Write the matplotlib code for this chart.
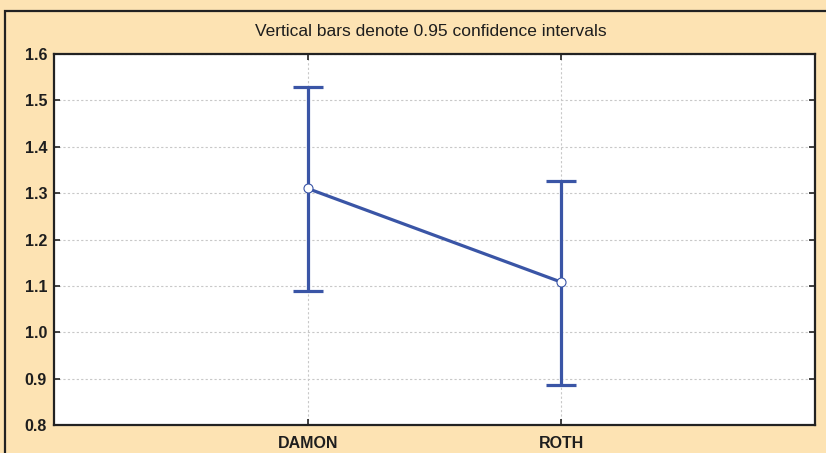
import matplotlib
matplotlib.use("Agg")
import matplotlib.pyplot as plt
from matplotlib.patches import Rectangle

categories = ["DAMON", "ROTH"]
means = [1.310, 1.108]
upper = [1.529, 1.326]
lower = [1.089, 0.887]
yticks = [0.8, 0.9, 1.0, 1.1, 1.2, 1.3, 1.4, 1.5, 1.6]
title = "Vertical bars denote 0.95 confidence intervals"

plt.rcParams['font.family'] = ['Liberation Sans', 'DejaVu Sans']

bg = "#FDE3B3"
blue = "#3A55A6"
dark = "#1E1E1E"

fig = plt.figure(figsize=(8.26, 4.53), dpi=100, facecolor=bg)
fig.patches.append(Rectangle((5/826, -0.1), 1.2, 1 - 11/453 + 0.1, transform=fig.transFigure,
                             fill=False, edgecolor="#222222", linewidth=1.6, zorder=0))
ax = fig.add_axes([54/826, 1 - 425/453, (815-54)/826, (425-54)/453])
ax.set_facecolor("white")

x = list(range(len(categories)))
yerr = [[m - l for m, l in zip(means, lower)], [u - m for m, u in zip(means, upper)]]
ax.errorbar(x, means, yerr=yerr, fmt='none', ecolor=blue, elinewidth=2.3,
            capsize=11, capthick=2.3, zorder=3)
ax.plot(x, means, color=blue, linewidth=2.3, marker='o', markersize=6.5,
        markerfacecolor='white', markeredgecolor=blue, markeredgewidth=0.8, zorder=4)

ax.set_xlim(-1, 2)
ax.set_ylim(0.8, 1.6)
ax.set_xticks(x)
ax.set_xticklabels(categories, fontsize=11.5, fontweight='bold', color=dark)
ax.set_yticks(yticks)
ax.set_yticklabels([f"{v:.1f}" for v in yticks], fontsize=11.5, fontweight='bold', color=dark)
ax.tick_params(direction='in', top=True, right=True, length=4, width=1.2, color="#222222")
ax.tick_params(axis='x', pad=8)
ax.tick_params(axis='y', pad=5)
ax.grid(True, linestyle=(0, (2, 2)), color="#C8C8C8", linewidth=0.8)
ax.set_axisbelow(True)
for s in ax.spines.values():
    s.set_linewidth(1.6)
    s.set_color("#222222")

fig.text((54+815)/2/826 - 0.004, 1 - 32/453, title, ha='center', va='center', fontsize=12.5, color=dark)

fig.savefig("out.png", dpi=100, facecolor=bg)
